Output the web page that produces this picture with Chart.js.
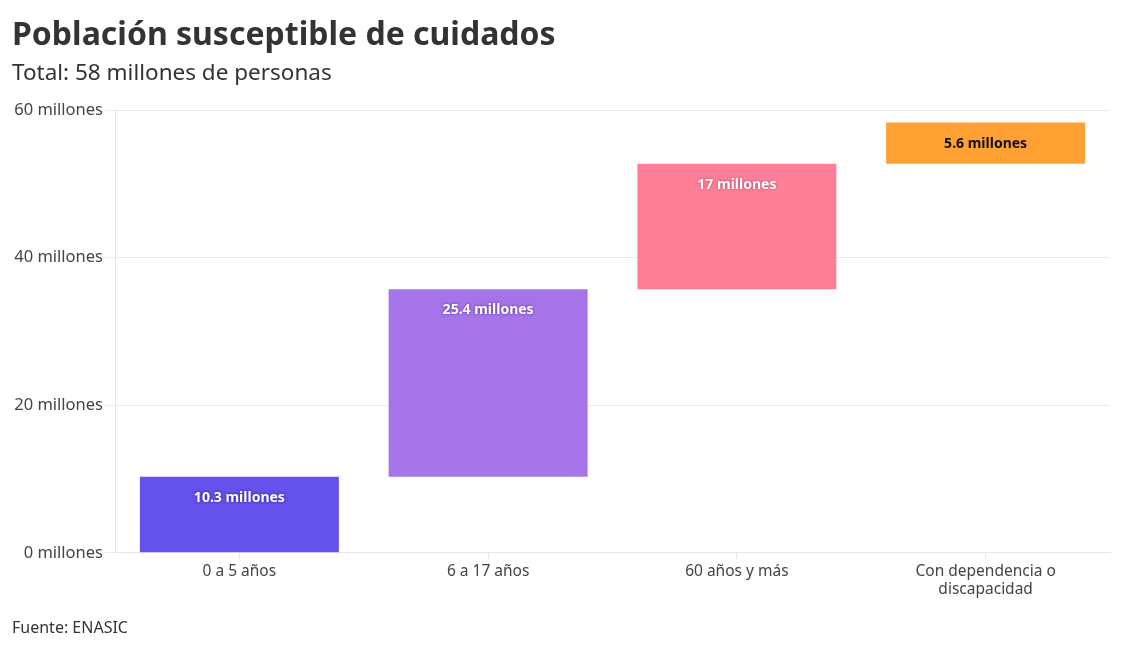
<!DOCTYPE html>
<html>
<head>
<meta charset="utf-8">
<script src="https://cdn.jsdelivr.net/npm/chart.js@4.4.1/dist/chart.umd.min.js"></script>
<style>
  body { margin: 0; background: #fff; font-family: "Noto Sans", sans-serif; }
  #wrap { position: relative; width: 1126px; height: 650px; }
  #title { position: absolute; left: 12px; top: 11px; font-size: 32px; font-weight: 700; color: #333; }
  #subtitle { position: absolute; left: 12px; top: 56px; font-size: 22.5px; color: #333; }
  #source { position: absolute; left: 12px; top: 616px; font-size: 16px; color: #333; }
  canvas { position: absolute; left: 0; top: 0; }
</style>
</head>
<body>
<div id="wrap">
  <canvas id="chart" width="1126" height="650"></canvas>
  <div id="title">Población susceptible de cuidados</div>
  <div id="subtitle">Total: 58 millones de personas</div>
  <div id="source">Fuente: ENASIC</div>
</div>
<script>
// DATA
const categories = ['0 a 5 años', '6 a 17 años', '60 años y más', ['Con dependencia o', 'discapacidad']];
const values = [10.3, 25.4, 17, 5.6];
const valueLabels = ['10.3 millones', '25.4 millones', '17 millones', '5.6 millones'];
const barColors = ['#6551EB', '#A474E8', '#FF7F99', '#FFA033'];
const labelColors = ['#fff', '#fff', '#fff', '#111'];
const shadowColors = ['#2b1a8f', '#5b2f9a', '#b8435e', 'rgba(0,0,0,0)'];
const yTicks = [0, 20, 40, 60];

// floating bars: each starts where the previous one ended
let running = 0;
const ranges = values.map(v => {
  const r = [running, running + v];
  running += v;
  return r;
});

const barLabels = {
  id: 'barLabels',
  afterDatasetsDraw(chart) {
    const ctx = chart.ctx;
    const meta = chart.getDatasetMeta(0);
    meta.data.forEach((bar, i) => {
      const top = Math.min(bar.y, bar.base);
      ctx.save();
      ctx.font = '700 14px "Noto Sans", sans-serif';
      ctx.textAlign = 'center';
      ctx.textBaseline = 'middle';
      ctx.shadowColor = shadowColors[i];
      ctx.shadowBlur = 3;
      ctx.fillStyle = labelColors[i];
      ctx.fillText(valueLabels[i], bar.x, top + 21);
      ctx.restore();
    });
  }
};

const ctx = document.getElementById('chart');
new Chart(ctx, {
  type: 'bar',
  data: {
    labels: categories,
    datasets: [{
      data: ranges,
      backgroundColor: barColors,
      borderWidth: 0,
      barPercentage: 0.8,
      categoryPercentage: 1
    }]
  },
  options: {
    responsive: false,
    animation: false,
    layout: { padding: { left: 12, right: 16, top: 110, bottom: 48 } },
    plugins: { legend: { display: false }, tooltip: { enabled: false } },
    scales: {
      x: {
        offset: true,
        grid: { display: true, offset: false, drawOnChartArea: false, color: '#e6e6e6', tickLength: 6 },
        border: { color: '#e6e6e6' },
        ticks: { color: '#444', font: { size: 15.5, family: '"Noto Sans", sans-serif' }, padding: 3 }
      },
      y: {
        min: 0,
        max: 60,
        afterBuildTicks(scale) { scale.ticks = yTicks.map(v => ({ value: v })); },
        afterFit(scale) { scale.width = 103; },
        grid: { color: '#ececec', tickLength: 10 },
        border: { color: '#e6e6e6' },
        ticks: {
          color: '#444',
          font: { size: 16.5, family: '"Noto Sans", sans-serif' },
          padding: 2,
          callback: v => v + ' millones'
        }
      }
    }
  },
  plugins: [barLabels]
});
</script>
</body>
</html>
